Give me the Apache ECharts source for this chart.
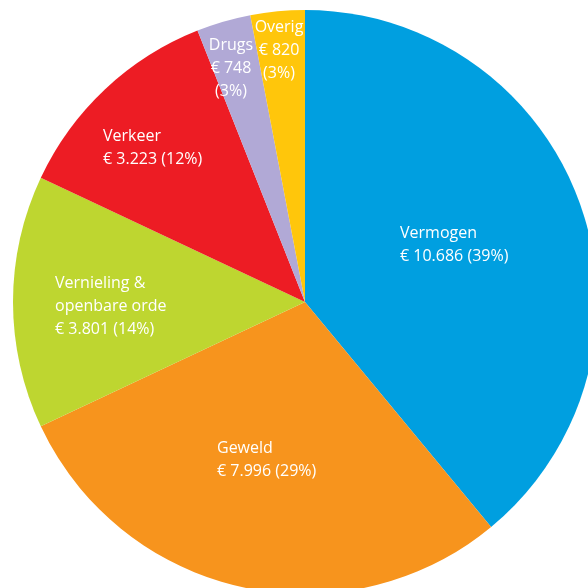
<!DOCTYPE html>
<html>
<head>
<meta charset="utf-8">
<script src="https://cdn.jsdelivr.net/npm/echarts@6/dist/echarts.min.js"></script>
<style>
  html, body { margin: 0; padding: 0; background: #fff; }
  #chart { width: 588px; height: 588px; }
</style>
</head>
<body>
<div id="chart"></div>
<script>
// categories in clockwise order from 12 o'clock
const categories = ['Vermogen', 'Geweld', 'Vernieling &\nopenbare orde', 'Verkeer', 'Drugs', 'Overig']
const amounts = [10686, 7996, 3801, 3223, 748, 820]
// slices are drawn from the rounded shares, as in the original
const shares = [39, 29, 14, 12, 3, 3]
const colors = ['#009fe0', '#f7941d', '#bed630', '#ed1c24', '#b1a9d6', '#ffc60b']

// label block anchors (layout only)
const labelSpots = [
  { x: 400, y: 245, align: 'left' },
  { x: 217, y: 460, align: 'left' },
  { x: 55, y: 306, align: 'left' },
  { x: 103, y: 148, align: 'left' },
  { x: 231, y: 68, align: 'center' },
  { x: 279, y: 50, align: 'center' }
]

function euro(v) {
  return '€ ' + String(v).replace(/\B(?=(\d{3})+(?!\d))/g, '.')
}

const chart = echarts.init(document.getElementById('chart'), null, { renderer: 'canvas' })

chart.setOption({
  animation: false,
  series: [{
    type: 'pie',
    center: [305, 302],
    radius: 292,
    startAngle: 90,
    clockwise: true,
    avoidLabelOverlap: false,
    data: categories.map((name, i) => ({
      name: name,
      value: shares[i],
      itemStyle: { color: colors[i] }
    })),
    itemStyle: { borderWidth: 0 },
    label: {
      show: true,
      position: 'inside',
      color: '#fff',
      fontFamily: 'Open Sans',
      fontSize: 16,
      lineHeight: 23,
      formatter: function (p) {
        const i = p.dataIndex
        const pct = shares[i] + '%'
        if (i >= 4) {
          return p.name + '\n' + euro(amounts[i]) + '\n(' + pct + ')'
        }
        return p.name + '\n' + euro(amounts[i]) + ' (' + pct + ')'
      }
    },
    labelLine: { show: false },
    labelLayout: function (params) {
      const s = labelSpots[params.dataIndex]
      return { x: s.x, y: s.y, align: s.align, verticalAlign: 'middle' }
    }
  }]
})
</script>
</body>
</html>
